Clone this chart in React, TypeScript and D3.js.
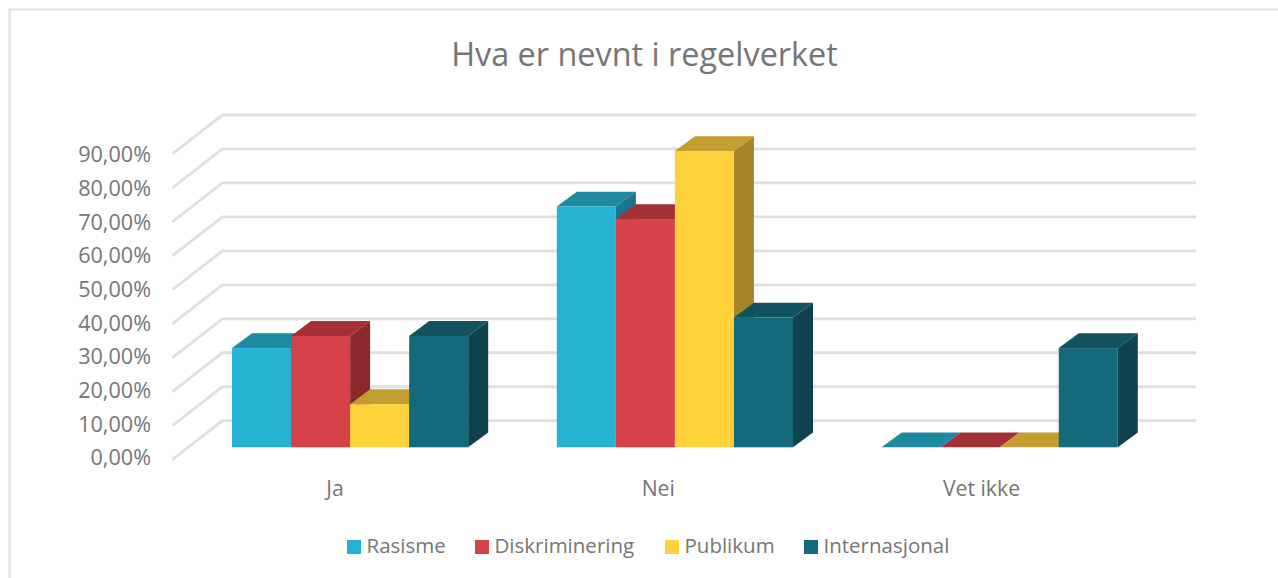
import React from "react";
import * as d3 from "d3";

const categories = ["Ja", "Nei", "Vet ikke"];
const seriesNames = ["Rasisme", "Diskriminering", "Publikum", "Internasjonal"];
const rasisme = [29.2, 70.9, 0];
const diskriminering = [32.8, 67.2, 0];
const publikum = [12.7, 87.2, 0];
const internasjonal = [32.8, 38.2, 29.2];
const seriesValues = [rasisme, diskriminering, publikum, internasjonal];
const tickValues = [0, 10, 20, 30, 40, 50, 60, 70, 80, 90];
const frontColors = ["#25B3D3", "#D74248", "#FFD13B", "#15697C"];
const topColors = ["#1E8AA1", "#A33036", "#C29E30", "#12535F"];
const sideColors = ["#1A768C", "#8A282D", "#A48528", "#0F424E"];
const legendX = [347, 475, 665, 804];

const FONT = "'Open Sans', sans-serif";
const TEXT = "#757575";
const GRID = "#DFDFDF";

export default function App() {
  const yBack = d3.scaleLinear().domain([0, 90]).range([420.7, 115]);
  const yLabel = d3.scaleLinear().domain([0, 90]).range([465.4, 162.2]);
  const yFrontBar = d3.scaleLinear().domain([0, 90]).range([447.3, 141.6]);
  const xGroup = d3.scalePoint<string>().domain(categories).range([232, 881.6]);
  const xLabel = d3.scalePoint<string>().domain(categories).range([335, 981.5]);
  const xBar = d3.scaleBand<number>().domain([0, 1, 2, 3]).range([0, 236.2]);
  const dxWall = 50, dyWall = 38.8, dxBar = 20, dyBar = 14.8;

  const bars: React.ReactNode[] = [];
  categories.forEach((c, ci) => {
    seriesValues.forEach((vals, si) => {
      const x0 = (xGroup(c) as number) + (xBar(si) as number);
      const w = xBar.bandwidth();
      const yt = yFrontBar(vals[ci]);
      const yb = yFrontBar(0);
      bars.push(
        <g key={c + si}>
          <polygon points={`${x0 + w},${yt} ${x0 + w + dxBar},${yt - dyBar} ${x0 + w + dxBar},${yb - dyBar} ${x0 + w},${yb}`} fill={sideColors[si]} />
          <polygon points={`${x0},${yt} ${x0 + dxBar},${yt - dyBar} ${x0 + w + dxBar},${yt - dyBar} ${x0 + w},${yt}`} fill={topColors[si]} />
          <rect x={x0} y={yt} width={w} height={yb - yt} fill={frontColors[si]} />
        </g>
      );
    });
  });

  return (
    <svg width={1278} height={578} style={{ position: "absolute", left: 0, top: 0 }} fontFamily={FONT}>
      <rect width={1278} height={578} fill="#fff" />
      <path d="M9.5,578V9.5H1278" fill="none" stroke="#E2E2E2" strokeWidth={2.2} />
      <text x={644.5} y={65.5} textAnchor="middle" fontSize={32.4} fill={TEXT}>Hva er nevnt i regelverket</text>
      {tickValues.map((t) => (
        <g key={t}>
          <path
            d={`M${172.5},${yBack(t) + dyWall} L${172.5 + dxWall},${yBack(t)} H1196`}
            fill="none"
            stroke={GRID}
            strokeWidth={2.8}
          />
          <text x={151} y={yLabel(t)} textAnchor="end" fontSize={21.6} fill={TEXT}>
            {t.toFixed(2).replace(".", ",")}%
          </text>
        </g>
      ))}
      {bars}
      {categories.map((c) => (
        <text key={c} x={xLabel(c)} y={496} textAnchor="middle" fontSize={21.2} fill={TEXT}>{c}</text>
      ))}
      {seriesNames.map((s, i) => (
        <g key={s}>
          <rect x={legendX[i]} y={540} width={14} height={14} fill={frontColors[i]} />
          <text x={legendX[i] + 19.5} y={553} fontSize={20.5} fill={TEXT}>{s}</text>
        </g>
      ))}
    </svg>
  );
}
